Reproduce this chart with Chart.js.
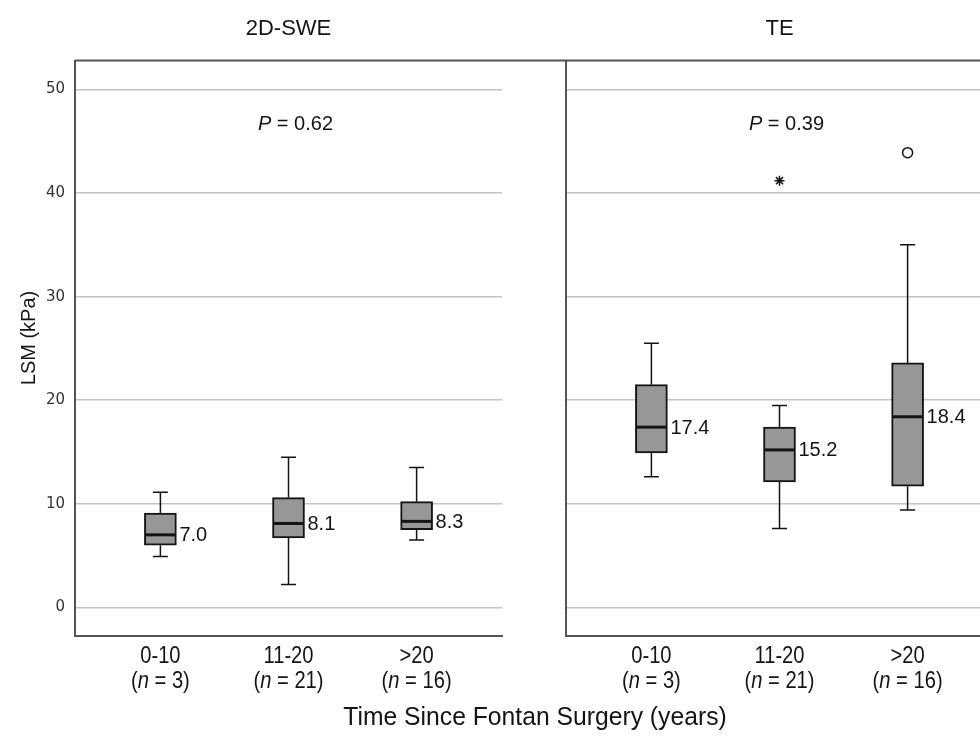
<!DOCTYPE html>
<html>
<head>
<meta charset="utf-8">
<script src="https://cdn.jsdelivr.net/npm/chart.js@4.4.1/dist/chart.umd.min.js"></script>
<style>
  html, body { margin: 0; padding: 0; background: #fff; }
  #wrap { position: relative; width: 980px; height: 739px; overflow: hidden; background: #fff; }
  #wrap canvas { position: absolute; left: 0; top: 0; }
</style>
</head>
<body>
<div id="wrap">
  <canvas id="swe" width="1020" height="739"></canvas>
  <canvas id="te" width="1020" height="739"></canvas>
</div>
<script>
// categories and labels
const groups = ['0-10', '11-20', '>20'];
const groupN = [3, 21, 16];
const panelTitles = ['2D-SWE', 'TE'];
const pValues = ['0.62', '0.39'];
const yTicks = [0, 10, 20, 30, 40, 50];
const xTitle = 'Time Since Fontan Surgery (years)';
const yTitle = 'LSM (kPa)';

// 2D-SWE boxes: lower whisker, Q1, median, Q3, upper whisker
const sweMin = [4.9, 2.2, 6.5];
const sweQ1 = [6.0, 6.7, 7.5];
const sweMedian = [7.0, 8.1, 8.3];
const sweQ3 = [9.1, 10.6, 10.2];
const sweMax = [11.1, 14.5, 13.5];

// TE boxes
const teMin = [12.6, 7.6, 9.4];
const teQ1 = [14.9, 12.1, 11.7];
const teMedian = [17.4, 15.2, 18.4];
const teQ3 = [21.5, 17.4, 23.6];
const teMax = [25.5, 19.5, 35.0];

// TE outliers (o) and extremes (*), by group number
const teOutlierGroup = [3];
const teOutlierValue = [43.9];
const teExtremeGroup = [2];
const teExtremeValue = [41.2];

const SANS = '"Liberation Sans", Arial, sans-serif';
const INK = '#141414';
const FRAME = '#555';

// texte avec parties en italique, centré sur cx ; sx = compression horizontale
function drawRich(ctx, parts, cx, cy, size, family, sx) {
  sx = sx || 1;
  const fontFor = it => (it ? 'italic ' : '') + size + 'px ' + family;
  let total = 0;
  parts.forEach(p => { ctx.font = fontFor(p[1]); total += ctx.measureText(p[0]).width; });
  ctx.save();
  ctx.translate(cx, cy);
  ctx.scale(sx, 1);
  let x = -total / 2;
  ctx.textAlign = 'left';
  ctx.textBaseline = 'middle';
  parts.forEach(p => {
    ctx.font = fontFor(p[1]);
    ctx.fillText(p[0], x, 0);
    x += ctx.measureText(p[0]).width;
  });
  ctx.restore();
}

const boxPlot = {
  id: 'boxPlot',
  beforeDatasetsDraw(chart, args, opts) {
    const { ctx, scales: { x, y } } = chart;
    const s = opts.stats;
    ctx.save();
    ctx.strokeStyle = INK;
    ctx.lineWidth = 1.5;
    s.min.forEach((lo, i) => {
      const px = x.getPixelForValue(i + 1);
      ctx.beginPath();
      ctx.moveTo(px, y.getPixelForValue(lo));
      ctx.lineTo(px, y.getPixelForValue(s.q1[i]));
      ctx.moveTo(px, y.getPixelForValue(s.q3[i]));
      ctx.lineTo(px, y.getPixelForValue(s.max[i]));
      [lo, s.max[i]].forEach(v => {
        const py = y.getPixelForValue(v);
        ctx.moveTo(px - 7.5, py);
        ctx.lineTo(px + 7.5, py);
      });
      ctx.stroke();
    });
    ctx.restore();
  },
  afterDatasetsDraw(chart, args, opts) {
    const { ctx, scales: { x, y } } = chart;
    const s = opts.stats;
    ctx.save();
    s.median.forEach((m, i) => {
      const px = x.getPixelForValue(i + 1);
      const py = y.getPixelForValue(m);
      ctx.strokeStyle = INK;
      ctx.lineWidth = 3;
      ctx.beginPath();
      ctx.moveTo(px - 15, py);
      ctx.lineTo(px + 15, py);
      ctx.stroke();
      ctx.fillStyle = INK;
      ctx.font = '20px ' + SANS;
      ctx.textAlign = 'left';
      ctx.textBaseline = 'middle';
      ctx.fillText(m.toFixed(1), px + 19, py + 1);
    });
    ctx.restore();
  },
  afterDraw(chart, args, opts) {
    const { ctx, chartArea, scales: { x, y } } = chart;
    const p = opts.panel;
    ctx.save();
    // cadre du haut, continu sur toute la figure
    if (p === 0) {
      ctx.strokeStyle = FRAME;
      ctx.lineWidth = 2;
      ctx.beginPath();
      ctx.moveTo(chartArea.left, chartArea.top);
      ctx.lineTo(chart.width, chartArea.top);
      ctx.stroke();
    }
    const cx = (chartArea.left + chartArea.right) / 2;
    ctx.fillStyle = INK;
    ctx.font = '22px ' + SANS;
    ctx.textAlign = 'center';
    ctx.textBaseline = 'middle';
    ctx.fillText(panelTitles[p], cx, 29);

    drawRich(ctx, [['P', true], [' = ' + pValues[p], false]],
      x.getPixelForValue(2) + 7, y.getPixelForValue(46.6), 20, SANS);

    groups.forEach((g, i) => {
      const px = x.getPixelForValue(i + 1);
      drawRich(ctx, [[g, false]], px, chartArea.bottom + 21, 24, SANS, 0.84);
      drawRich(ctx, [['(', false], ['n', true], [' = ' + groupN[i] + ')', false]],
        px, chartArea.bottom + 46, 24, SANS, 0.84);
    });

    if (p === 0) {
      drawRich(ctx, [[xTitle, false]], 535, 718, 26, SANS, 0.95);
      ctx.save();
      ctx.translate(29, 338);
      ctx.rotate(-Math.PI / 2);
      ctx.font = '20px ' + SANS;
      ctx.textAlign = 'center';
      ctx.textBaseline = 'middle';
      ctx.fillText(yTitle, 0, 0);
      ctx.restore();
    }
    ctx.restore();
  }
};

function makeChart(id, panel, stats, extraSets) {
  const datasets = [{
    type: 'bar',
    data: groups.map((g, i) => ({ x: i + 1, y: [stats.q1[i], stats.q3[i]] })),
    backgroundColor: '#979797',
    borderColor: INK,
    borderWidth: 2,
    borderSkipped: false,
    barThickness: 32
  }].concat(extraSets);

  return new Chart(document.getElementById(id), {
    type: 'bar',
    data: { datasets: datasets },
    options: {
      responsive: false,
      animation: false,
      layout: { padding: { top: 60.5, bottom: 0, left: 0, right: panel === 0 ? 518 : 27 } },
      plugins: {
        legend: { display: false },
        tooltip: { enabled: false },
        boxPlot: { panel: panel, stats: stats }
      },
      scales: {
        x: {
          type: 'linear',
          offset: false,
          min: 1 / 3,
          max: 11 / 3,
          grid: { display: false },
          border: { display: true, color: FRAME, width: 2 },
          ticks: { display: false },
          afterFit: s => { s.height = 739 - 635.5; }
        },
        y: {
          type: 'linear',
          min: -2.72,
          max: 52.8,
          afterBuildTicks: s => { s.ticks = yTicks.map(v => ({ value: v })); },
          ticks: {
            display: panel === 0,
            color: '#333',
            padding: 10,
            font: { family: '"DejaVu Sans"', size: 15 }
          },
          grid: { color: '#c4c4c4', lineWidth: 1.5, drawTicks: false },
          border: { display: true, color: FRAME, width: 2 },
          afterFit: s => { s.width = panel === 0 ? 75 : 566; }
        }
      }
    },
    plugins: [boxPlot]
  });
}

makeChart('swe', 0, { min: sweMin, q1: sweQ1, median: sweMedian, q3: sweQ3, max: sweMax }, []);

makeChart('te', 1, { min: teMin, q1: teQ1, median: teMedian, q3: teQ3, max: teMax }, [
  {
    type: 'scatter',
    data: teOutlierGroup.map((g, i) => ({ x: g, y: teOutlierValue[i] })),
    pointStyle: 'circle',
    pointRadius: 5,
    borderColor: INK,
    borderWidth: 1.5,
    backgroundColor: 'rgba(0,0,0,0)'
  },
  {
    type: 'scatter',
    data: teExtremeGroup.map((g, i) => ({ x: g, y: teExtremeValue[i] })),
    pointStyle: 'star',
    pointRadius: 5,
    borderColor: INK,
    borderWidth: 1.5
  }
]);
</script>
</body>
</html>
